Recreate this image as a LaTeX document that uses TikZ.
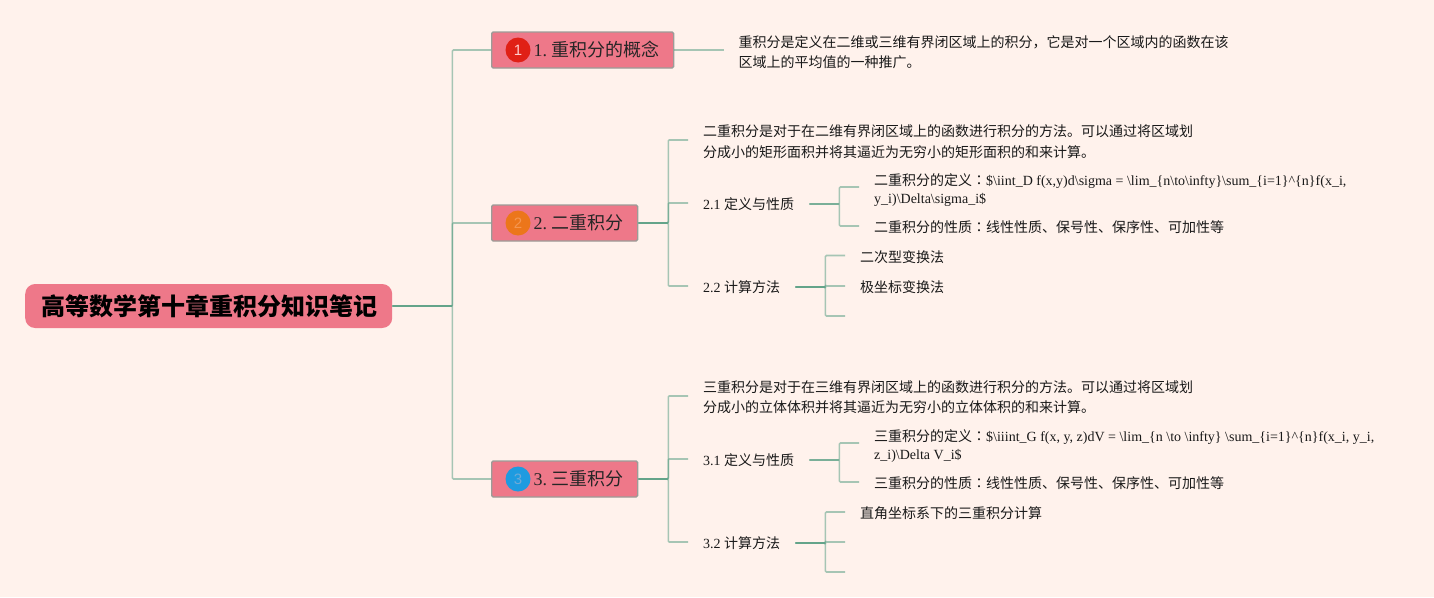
\documentclass[tikz,border=0pt]{standalone}
\usepackage{fontspec}
\setmainfont{Liberation Serif}
\newfontfamily\cjk{Noto Sans CJK SC}
\newfontfamily\cjktc{Noto Sans CJK TC}
\newfontfamily\numf{Liberation Sans}
\newcommand{\zh}[1]{{\cjk #1}}
\newcommand{\zhcolon}{{\cjktc ：}}
\newcommand{\topictext}[2]{\raisebox{-1.5pt}{\hspace{27pt}#1\hspace{-1.5pt}\zh{#2}\hspace{-1pt}}}
\definecolor{bgc}{HTML}{FFF2EC}
\definecolor{pinkc}{HTML}{EE7889}
\definecolor{linkc}{HTML}{4F9A7E}
\definecolor{edgec}{HTML}{9C9C98}
\tikzset{
  rootbox/.style={fill=pinkc,rounded corners=10pt,draw=none,minimum height=44pt,inner xsep=15pt,inner ysep=0pt,anchor=west,text=black,font=\cjk\bfseries\fontsize{24}{28}\selectfont},
  topicbox/.style={fill=pinkc,draw=edgec,line width=1.3pt,rounded corners=1.5pt,minimum height=36pt,inner xsep=15pt,inner ysep=0pt,anchor=west,text=black!85,font=\fontsize{18}{22}\selectfont},
  leaftext/.style={anchor=west,inner xsep=15pt,inner ysep=0pt,align=left,text=black!90,font=\fontsize{14}{20}\selectfont},
  widelines/.style={leaftext,font=\fontsize{14}{21}\selectfont},
  tightleaf/.style={leaftext,font=\fontsize{14}{18}\selectfont},
  blank/.style={anchor=west,inner sep=0pt,minimum size=0pt},
  badge/.style={circle,minimum size=25pt,inner sep=0pt,font=\numf\fontsize{15}{15}\selectfont},
  link/.style={draw=linkc,draw opacity=.5,line width=1.6pt,rounded corners=1pt}
}
\begin{document}
\begin{tikzpicture}[x=1pt,y=-1pt]
\useasboundingbox[fill=bgc] (0,0) rectangle (1434,597);
% root
\node[rootbox] (root) at (25,306) {\hspace{1pt}高等数学第十章重积分知识笔记\hspace{-2pt}};
% topics
\node[topicbox] (t1) at (491,50) {\topictext{1. }{重积分的概念}};
\node[topicbox] (t2) at (491,223) {\topictext{2. }{二重积分}};
\node[topicbox] (t3) at (491,479) {\topictext{3. }{三重积分}};
\node[badge,fill={rgb,255:red,224;green,32;blue,22},text=white!80!red] (b1) at (518,50) {1};
\node[badge,fill={rgb,255:red,236;green,118;blue,26},text={rgb,255:red,245;green,150;blue,80}] (b2) at (518,223) {2};
\node[badge,fill={rgb,255:red,30;green,155;blue,224},text={rgb,255:red,110;green,170;blue,215}] (b3) at (518,479) {3};
% topic 1
\node[leaftext] (a1) at (723.5,52) {\zh{重积分是定义在二维或三维有界闭区域上的积分，它是对一个区域内的函数在该}\\\zh{区域上的平均值的一种推广。}};
% topic 2
\node[widelines] (a2) at (688,141.5) {\zh{二重积分是对于在二维有界闭区域上的函数进行积分的方法。可以通过将区域划}\\\zh{分成小的矩形面积并将其逼近为无穷小的矩形面积的和来计算。}};
\node[leaftext] (b21) at (688,204) {2.1 \zh{定义与性质}};
\node[tightleaf] (c211) at (859,190.5) {\zh{二重积分的定义}\zhcolon\$\textbackslash iint\_D f(x,y)d\textbackslash sigma = \textbackslash lim\_\{n\textbackslash to\textbackslash infty\}\textbackslash sum\_\{i=1\}\textasciicircum\{n\}f(x\_i,\\y\_i)\textbackslash Delta\textbackslash sigma\_i\$};
\node[leaftext] (c212) at (859,227) {\zh{二重积分的性质}\zhcolon\zh{线性性质、保号性、保序性、可加性等}};
\node[leaftext] (b22) at (688,287) {2.2 \zh{计算方法}};
\node[leaftext] (c221) at (845,257) {\zh{二次型变换法}};
\node[leaftext] (c222) at (845,287) {\zh{极坐标变换法}};
\node[blank] (c223) at (845,316) {};
% topic 3
\node[leaftext] (a3) at (688,397.5) {\zh{三重积分是对于在三维有界闭区域上的函数进行积分的方法。可以通过将区域划}\\\zh{分成小的立体体积并将其逼近为无穷小的立体体积的和来计算。}};
\node[leaftext] (b31) at (688,460) {3.1 \zh{定义与性质}};
\node[tightleaf] (c311) at (859,446.5) {\zh{三重积分的定义}\zhcolon\$\textbackslash iiint\_G f(x, y, z)dV = \textbackslash lim\_\{n \textbackslash to \textbackslash infty\} \textbackslash sum\_\{i=1\}\textasciicircum\{n\}f(x\_i, y\_i,\\z\_i)\textbackslash Delta V\_i\$};
\node[leaftext] (c312) at (859,483) {\zh{三重积分的性质}\zhcolon\zh{线性性质、保号性、保序性、可加性等}};
\node[leaftext] (b32) at (688,543) {3.2 \zh{计算方法}};
\node[leaftext] (c321) at (845,513) {\zh{直角坐标系下的三重积分计算}};
\node[blank] (c322) at (845,542) {};
\node[blank] (c323) at (845,572) {};
% connectors
\draw[link] (root.east) -- ++(60,0) |- (t1.west);
\draw[link] (root.east) -- ++(60,0) |- (t2.west);
\draw[link] (root.east) -- ++(60,0) |- (t3.west);
\draw[link] (t1.east) -- ([yshift=2pt]a1.west);
\draw[link] (t2.east) -- ++(30,0) |- ([yshift=1.5pt]a2.west);
\draw[link] (t2.east) -- ++(30,0) |- ([yshift=1pt]b21.west);
\draw[link] (t2.east) -- ++(30,0) |- ([yshift=1pt]b22.west);
\draw[link] (b21.east) -- ++(30,0) |- ([yshift=3.5pt]c211.west);
\draw[link] (b21.east) -- ++(30,0) |- ([yshift=1pt]c212.west);
\draw[link] (b22.east) -- ++(30,0) |- ([yshift=1.5pt]c221.west);
\draw[link] (b22.east) -- ++(30,0) |- ([yshift=1pt]c222.west);
\draw[link] (b22.east) -- ++(30,0) |- (c223.west);
\draw[link] (t3.east) -- ++(30,0) |- ([yshift=1.5pt]a3.west);
\draw[link] (t3.east) -- ++(30,0) |- ([yshift=1pt]b31.west);
\draw[link] (t3.east) -- ++(30,0) |- ([yshift=1pt]b32.west);
\draw[link] (b31.east) -- ++(30,0) |- ([yshift=3.5pt]c311.west);
\draw[link] (b31.east) -- ++(30,0) |- ([yshift=1pt]c312.west);
\draw[link] (b32.east) -- ++(30,0) |- ([yshift=1pt]c321.west);
\draw[link] (b32.east) -- ++(30,0) |- (c322.west);
\draw[link] (b32.east) -- ++(30,0) |- (c323.west);
\end{tikzpicture}
\end{document}
